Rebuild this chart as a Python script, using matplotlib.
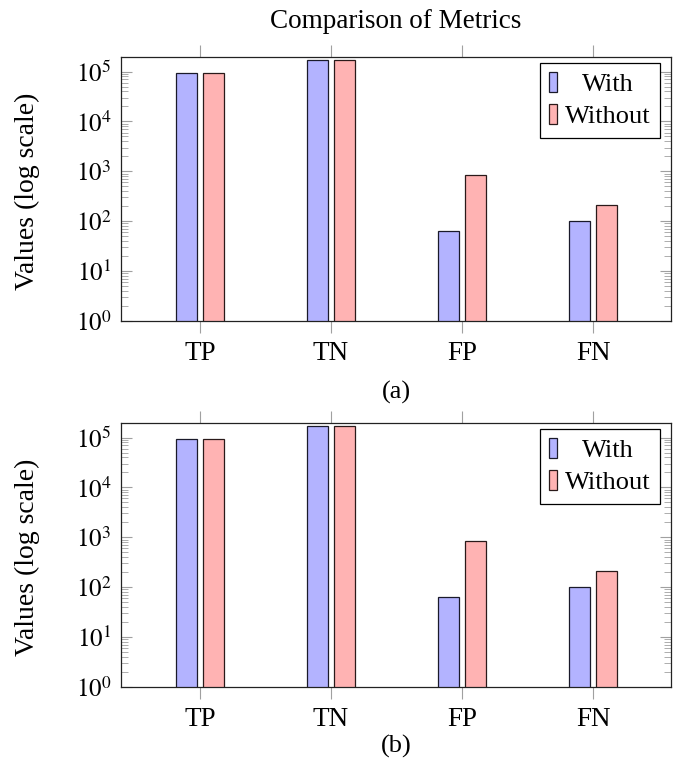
import matplotlib
matplotlib.use("Agg")
import matplotlib.pyplot as plt
import numpy as np

plt.rcParams['font.family'] = ['Liberation Serif', 'DejaVu Serif']
plt.rcParams['mathtext.fontset'] = 'stix'

categories = ["TP", "TN", "FP", "FN"]
with_vals = [94800, 170500, 64, 100]
without_vals = [94300, 171000, 850, 212]
captions = ["(a)", "(b)"]

blue = "#b3b3ff"
red = "#ffb3b3"


def draw(ax, show_title):
    x = np.arange(len(categories))
    w = 0.164
    ax.bar(x - 0.1015, with_vals, w, color=blue, edgecolor="#1a1a2a", linewidth=0.9, label="With")
    ax.bar(x + 0.1015, without_vals, w, color=red, edgecolor="#2a1a1a", linewidth=0.9, label="Without")
    ax.set_yscale("log")
    ax.set_ylim(1, 10 ** 5.30)
    ax.set_xlim(-0.603, 3.595)
    ax.set_xticks(x)
    ax.set_xticklabels(categories, fontsize=19.5)
    ax.tick_params(axis="x", direction="out", length=8.5, color="#a0a0a0", width=0.8,
                   top=True, bottom=True, pad=6)
    ax.set_yticks([10 ** k for k in range(6)])
    ax.set_yticklabels([r"$10^{%d}$" % k for k in range(6)], fontsize=18)
    ax.tick_params(axis="y", which="major", direction="in", length=8, color="#a0a0a0",
                   width=0.8, left=True, right=True, pad=7)
    ax.tick_params(axis="y", which="minor", direction="in", length=5, color="#a0a0a0",
                   width=0.6, left=True, right=True)
    ax.yaxis.set_minor_locator(matplotlib.ticker.LogLocator(base=10, subs=np.arange(2, 10)))
    ax.yaxis.set_minor_formatter(matplotlib.ticker.NullFormatter())
    ax.set_ylabel("Values (log scale)", fontsize=20)
    ax.yaxis.set_label_coords(-0.147, 0.49)
    for s in ax.spines.values():
        s.set_linewidth(0.9)
        s.set_color("#222222")
    if show_title:
        ax.set_title("Comparison of Metrics", fontsize=19.5, pad=21)
    leg = ax.legend(loc="upper right", bbox_to_anchor=(1 - 11 / 550, 1 - 6 / 264),
                    fontsize=19, fancybox=False, edgecolor="black",
                    framealpha=1, handlelength=0.3, handleheight=0.8, handletextpad=0.3,
                    borderaxespad=0, borderpad=0.35, labelspacing=0.3)
    leg.get_frame().set_linewidth(0.9)
    # centre the shorter label over the longer one, like pgfplots does
    leg.get_texts()[0].set_x(17)


fig = plt.figure(figsize=(6.88, 7.62), dpi=100)
ax1 = fig.add_axes([0.1759, 0.5791, 0.7994, 0.3465])
ax2 = fig.add_axes([0.1759, 0.0988, 0.7994, 0.3465])
draw(ax1, True)
draw(ax2, False)
fig.text(0.576, 1 - 392 / 762, captions[0], ha="center", va="center", fontsize=19)
fig.text(0.576, 1 - 746 / 762, captions[1], ha="center", va="center", fontsize=19)
fig.savefig("out.png", dpi=100)
